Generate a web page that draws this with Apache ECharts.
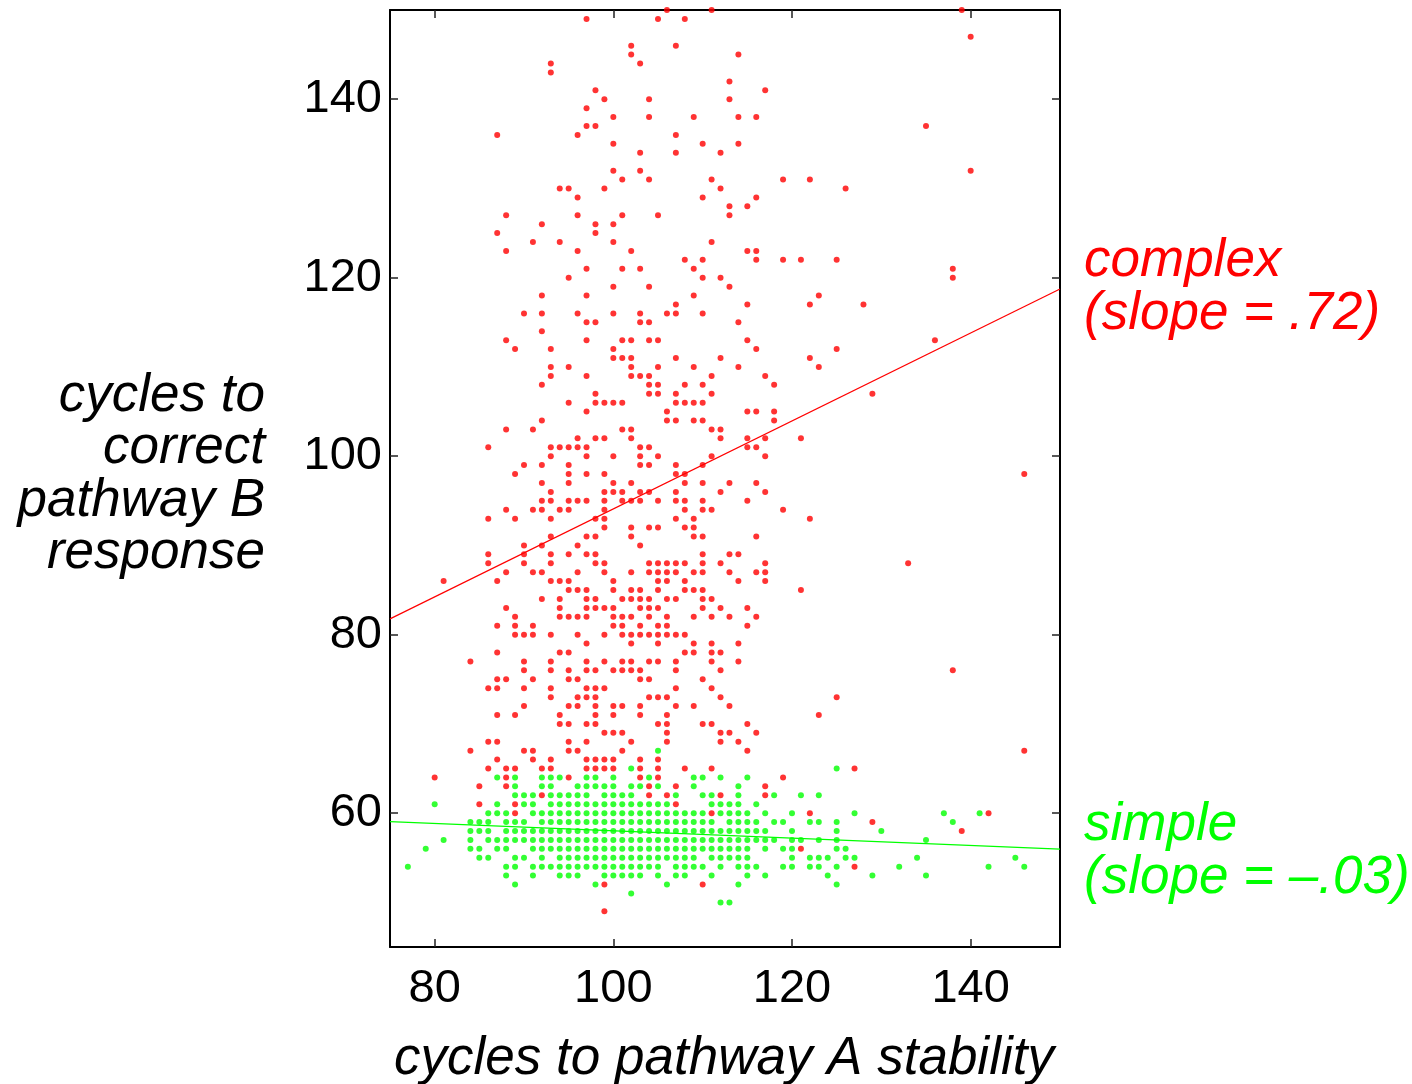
<!DOCTYPE html>
<html><head><meta charset="utf-8">
<script src="https://cdn.jsdelivr.net/npm/echarts@6/dist/echarts.min.js"></script>
<style>html,body{margin:0;padding:0;background:#fff}#c{width:1412px;height:1084px}</style>
</head><body><div id="c"></div>
<script>
// ---- tick labels / titles ----
const xTicks = [80, 100, 120, 140];
const yTicks = [60, 80, 100, 120, 140];
const xTitle = 'cycles to pathway A stability';
const yTitle = ['cycles to', 'correct', 'pathway B', 'response'];
const complexLabel = ['complex', '(slope = .72)'];
const simpleLabel = ['simple', '(slope = \u2013.03)'];

// ---- fitted lines (as drawn) ----
const complexFit = [[75, 81.77], [150, 118.73]];
const simpleFit = [[75, 59.05], [150, 55.97]];

// ---- complex (red) points [x, y] ----
const redTop = [[97,149],[102,146],[102,145],[93,144],[93,143],[98,141],[99,140],[97,139],[100,138],[97,137],[98,137],[87,136],[96,136],[100,135],[100,132],[101,131],[94,130],[95,130],[99,130],[96,129],[88,127],[96,127],[101,127],[92,126],[98,126],[100,126],[87,125],[98,125],[91,124],[94,124],[100,124],[88,123],[96,123],[102,123],[97,121],[101,121],
[106,150],[111,150],[105,149],[108,149],[107,146],[114,145],[103,144],[113,142],[117,141],[104,140],[113,140],[104,138],[109,138],[114,138],[116,138],[107,136],[110,135],[114,135],[103,134],[107,134],[112,134],[103,132],[104,131],[111,131],[119,131],[122,131],[112,130],[126,130],[110,129],[116,129],[113,128],[115,128],[105,127],[113,127],[111,124],[115,123],[116,123],[108,122],[110,122],[116,122],[119,122],[121,122],[125,122],[103,121],[109,121]];
const redUpper = [[95,120],[100,119],[92,118],[97,118],[90,116],[92,116],[96,116],[100,116],[97,115],[98,115],[92,114],[88,113],[97,113],[101,113],[102,113],[89,112],[93,112],[100,112],[100,111],[101,111],[102,111],[93,110],[95,110],[102,110],[93,109],[97,109],[102,109],[92,108],[98,107],[95,106],[98,106],[99,106],[100,106],[101,106],[97,105],[92,104],[88,103],[91,103],[101,103],[102,103],[96,102],[98,102],[99,102],[102,102],[86,101],[93,101],[94,101],[95,101],[96,101],[97,101],[93,100],[97,100],[100,100],[90,99],[92,99],[95,99],[89,98],[95,98],[97,98],[99,98],[92,97],[95,97],[100,97],[102,97],[93,96],[99,96],[100,96],[101,96],[92,95],[93,95],[95,95],[96,95],[97,95],[99,95],[101,95],[102,95],[88,94],[91,94],[92,94],[94,94],[95,94],[99,94],[86,93],[89,93],[93,93],[98,93],[99,93],[99,92],[102,92],
[110,120],[112,120],[104,119],[113,119],[109,118],[123,118],[107,117],[115,117],[122,117],[103,116],[106,116],[107,116],[110,116],[103,115],[104,115],[114,115],[104,113],[105,113],[115,113],[116,112],[125,112],[107,111],[112,111],[122,111],[105,110],[109,110],[114,110],[123,110],[103,109],[104,109],[111,109],[117,109],[104,108],[105,108],[108,108],[110,108],[118,108],[104,107],[105,107],[107,107],[111,107],[107,106],[108,106],[109,106],[110,106],[106,105],[115,105],[116,105],[118,105],[106,104],[107,104],[109,104],[110,104],[118,104],[111,103],[112,103],[112,102],[115,102],[117,102],[121,102],[103,101],[104,101],[115,101],[116,101],[103,100],[105,100],[111,100],[117,100],[103,99],[104,99],[107,99],[110,99],[107,98],[108,98],[108,97],[110,97],[113,97],[116,97],[103,96],[104,96],[107,96],[112,96],[117,96],[103,95],[105,95],[107,95],[108,95],[110,95],[115,95],[108,94],[110,94],[111,94],[119,94],[107,93],[109,93],[122,93],[104,92],[105,92],[108,92],[109,92]];
const redMid = [[93,91],[97,91],[98,91],[102,91],[90,90],[92,90],[96,90],[86,89],[90,89],[93,89],[95,89],[97,89],[98,89],[86,88],[90,88],[93,88],[98,88],[99,88],[88,87],[91,87],[92,87],[96,87],[99,87],[102,87],[81,86],[87,86],[93,86],[94,86],[95,86],[100,86],[95,85],[96,85],[97,85],[100,85],[102,85],[92,84],[94,84],[97,84],[98,84],[101,84],[102,84],[88,83],[94,83],[97,83],[98,83],[99,83],[100,83],[89,82],[94,82],[95,82],[96,82],[97,82],[100,82],[101,82],[102,82],[87,81],[89,81],[91,81],[100,81],[101,81],[89,80],[90,80],[91,80],[93,80],[96,80],[99,80],[101,80],[102,80],[97,79],[102,79],[87,78],[94,78],[95,78],[84,77],[90,77],[93,77],[97,77],[99,77],[101,77],[102,77],[90,76],[93,76],[95,76],[97,76],[98,76],[100,76],[101,76],[102,76],[87,75],[88,75],[91,75],[95,75],[96,75],[86,74],[87,74],[90,74],[93,74],[97,74],[98,74],[99,74],[93,73],[96,73],[97,73],[98,73],[90,72],[95,72],[96,72],[98,72],[100,72],[101,72],[87,71],[89,71],[94,71],[98,71],[100,71],[94,70],[95,70],[97,70],[98,70],[99,69],[100,69],[101,69],[86,68],[87,68],[95,68],[97,68],[102,68],[84,67],[90,67],[91,67],[95,67],[96,67],[101,67],[87,66],[91,66],[93,66],[97,66],[98,66],[99,66],[100,66],[86,65],[88,65],[89,65],[92,65],[93,65],[97,65],[98,65],[99,65],[100,65],
[109,91],[110,91],[116,91],[103,90],[110,89],[113,89],[114,89],[104,88],[105,88],[106,88],[107,88],[108,88],[110,88],[112,88],[117,88],[104,87],[105,87],[106,87],[107,87],[109,87],[110,87],[113,87],[116,87],[117,87],[105,86],[106,86],[108,86],[114,86],[117,86],[103,85],[105,85],[108,85],[109,85],[110,85],[121,85],[103,84],[104,84],[106,84],[107,84],[110,84],[111,84],[103,83],[104,83],[105,83],[110,83],[112,83],[115,83],[104,82],[106,82],[109,82],[111,82],[113,82],[116,82],[103,81],[105,81],[106,81],[115,81],[103,80],[104,80],[105,80],[106,80],[107,80],[108,80],[105,79],[109,79],[111,79],[114,79],[108,78],[109,78],[111,78],[112,78],[104,77],[105,77],[107,77],[111,77],[114,77],[103,76],[107,76],[112,76],[103,75],[104,75],[110,75],[107,74],[111,74],[104,73],[105,73],[106,73],[112,73],[125,73],[103,72],[107,72],[109,72],[113,72],[103,71],[106,71],[123,71],[105,70],[106,70],[110,70],[111,70],[115,70],[106,69],[112,69],[113,69],[116,69],[106,68],[112,68],[114,68],[115,67],[103,66],[105,66],[103,65],[105,65],[108,65],[111,65]];
const redLow = [[127,65],[80,64],[88,64],[95,64],[103,64],[105,64],[119,64],[85,63],[88,63],[104,63],[107,63],[117,63],[92,62],[104,62],[106,62],[112,62],[117,62],[85,61],[89,61],[107,61],[89,60],[111,60],[122,60],[142,60],[129,59],[139,58],[121,56],[127,54],[99,52],[110,52],[99,49]];
const redOutliers = [[139,150],[140,147],[135,137],[140,132],[138,121],[138,120],[128,117],[136,113],[129,107],[146,98],[133,88],[138,76],[146,67]];

// ---- simple (green) points: x values for each y row ----
const green67 = [105];
const green65 = [102, 125];
const green64 = [87, 89, 92, 93, 94, 97, 98, 100, 104, 109, 110, 112, 115];
const green63 = [89, 92, 93, 96, 97, 98, 99, 100, 102, 103, 105, 109, 114];
const green62 = [89, 90, 91, 93, 94, 95, 96, 97, 99, 100, 101, 102, 107, 110, 111, 114, 118, 121, 123];
const green61 = [80, 87, 90, 91, 93, 94, 95, 96, 97, 98, 99, 100, 101, 102, 103, 104, 105, 106, 111, 112, 113, 114, 116];
const green60 = [86, 87, 88, 91, 92, 93, 94, 95, 96, 97, 98, 99, 100, 101, 102, 103, 104, 105, 106, 107, 108, 109, 110, 112, 113, 114, 115, 117, 120, 127, 137, 141];
const green59 = [84, 85, 86, 88, 89, 90, 92, 93, 94, 95, 96, 97, 98, 99, 100, 101, 102, 103, 104, 105, 106, 107, 108, 109, 110, 111, 113, 114, 115, 116, 118, 119, 122, 123, 125, 138];
const green58 = [84, 85, 86, 88, 89, 90, 91, 92, 93, 94, 95, 96, 97, 98, 99, 100, 101, 102, 103, 104, 105, 106, 107, 108, 109, 110, 111, 112, 113, 114, 115, 116, 117, 120, 125, 130];
const green57 = [81, 84, 86, 87, 88, 89, 90, 91, 92, 93, 94, 95, 96, 97, 98, 99, 100, 101, 102, 103, 104, 105, 106, 107, 108, 109, 110, 111, 112, 113, 114, 115, 116, 117, 118, 120, 121, 123, 125, 135];
const green56 = [79, 84, 85, 87, 88, 91, 92, 93, 94, 95, 96, 97, 98, 99, 100, 101, 102, 103, 104, 105, 106, 107, 108, 109, 110, 111, 112, 113, 114, 115, 117, 119, 120, 125, 126];
const green55 = [85, 86, 89, 90, 92, 94, 95, 96, 97, 98, 99, 100, 101, 102, 103, 104, 105, 106, 107, 108, 109, 111, 112, 113, 114, 115, 120, 122, 123, 124, 126, 127, 134, 145];
const green54 = [77, 88, 89, 91, 92, 93, 94, 95, 96, 97, 98, 99, 100, 101, 102, 103, 104, 105, 107, 108, 109, 110, 112, 114, 115, 116, 119, 120, 122, 123, 125, 132, 142, 146];
const green53 = [88, 91, 94, 95, 96, 99, 100, 101, 102, 103, 105, 107, 108, 111, 115, 117, 124, 129, 135];
const green52 = [89, 98, 106, 114, 125];
const green51 = [102];
const green50 = [112, 113];

const greenRows = [[67, green67], [65, green65], [64, green64], [63, green63], [62, green62], [61, green61], [60, green60], [59, green59], [58, green58], [57, green57], [56, green56], [55, green55], [54, green54], [53, green53], [52, green52], [51, green51], [50, green50]];
const greenData = [];
greenRows.forEach(([y, xs]) => xs.forEach(x => greenData.push([x, y])));
const redData = [].concat(redTop, redUpper, redMid, redLow, redOutliers);

const FONT = '"Liberation Sans", Arial, Helvetica, sans-serif';
const RED = '#ff0000', GREEN = '#00ff00';

function axis(pos, min, max, ticks, showLabel, margin) {
  return {
    type: 'value', position: pos, min: min, max: max,
    splitLine: { show: false },
    axisLine: { show: true, onZero: false, lineStyle: { color: '#000', width: 2 } },
    axisTick: { show: true, inside: true, length: 8, customValues: ticks, lineStyle: { color: '#222', width: 1.5 } },
    axisLabel: { show: showLabel, customValues: ticks, fontSize: 47, color: '#000', fontFamily: FONT, margin: margin }
  };
}

const chart = echarts.init(document.getElementById('c'), null, { renderer: 'canvas' });
chart.setOption({
  animation: false,
  backgroundColor: '#fff',
  grid: { left: 390, top: 10, width: 670, height: 937, containLabel: false },
  xAxis: [axis('bottom', 75, 150, xTicks, true, 19), axis('top', 75, 150, xTicks, false, 8)],
  yAxis: [axis('left', 45, 150, yTicks, true, 8), axis('right', 45, 150, yTicks, false, 8)],
  series: [
    { type: 'scatter', data: redData, symbolSize: 6, itemStyle: { color: RED }, silent: true, z: 2 },
    { type: 'scatter', data: greenData, symbolSize: 6, itemStyle: { color: GREEN }, silent: true, z: 3 },
    { type: 'line', data: complexFit, symbol: 'none', lineStyle: { color: RED, width: 1.2 }, silent: true, z: 4 },
    { type: 'line', data: simpleFit, symbol: 'none', lineStyle: { color: GREEN, width: 1.2 }, silent: true, z: 4 }
  ],
  graphic: [
    { type: 'text', style: { x: 265, y: 474.5, text: yTitle.join('\n'), fontSize: 53, fontStyle: 'italic', fontFamily: FONT, fill: '#000', align: 'right', verticalAlign: 'middle', lineHeight: 52.5 } },
    { type: 'text', style: { x: 724, y: 1059, text: xTitle, fontSize: 53, fontStyle: 'italic', fontFamily: FONT, fill: '#000', align: 'center', verticalAlign: 'middle' } },
    { type: 'text', style: { x: 1084, y: 287.5, text: complexLabel.join('\n'), fontSize: 53, fontStyle: 'italic', fontFamily: FONT, fill: RED, align: 'left', verticalAlign: 'middle', lineHeight: 53 } },
    { type: 'text', style: { x: 1084, y: 851.5, text: simpleLabel.join('\n'), fontSize: 53, fontStyle: 'italic', fontFamily: FONT, fill: GREEN, align: 'left', verticalAlign: 'middle', lineHeight: 53 } }
  ]
});
</script></body></html>
